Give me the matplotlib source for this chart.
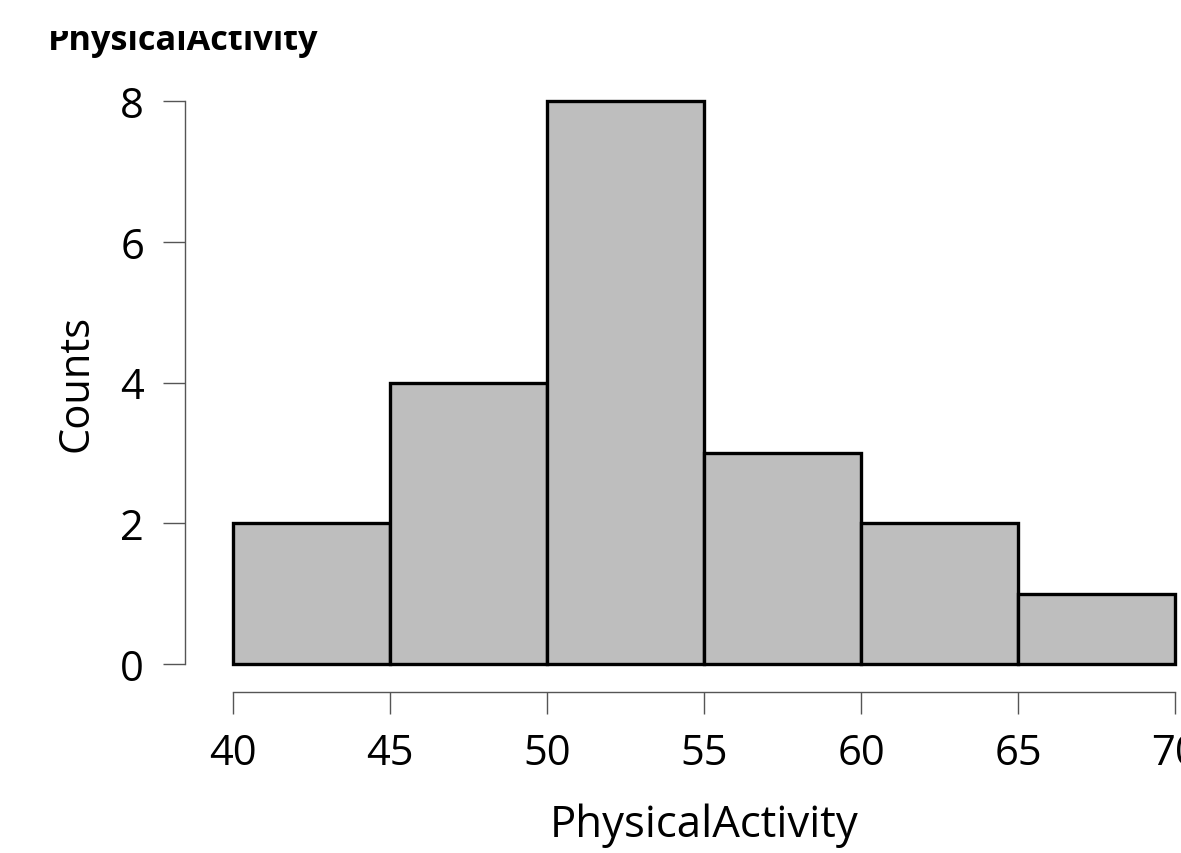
import matplotlib
matplotlib.use("Agg")
import matplotlib.pyplot as plt
from matplotlib.patches import Rectangle
import numpy as np

bin_edges = [40, 45, 50, 55, 60, 65, 70]
counts = [2, 4, 8, 3, 2, 1]
y_ticks = [0, 2, 4, 6, 8]
x_ticks = [40, 45, 50, 55, 60, 65, 70]
title = "PhysicalActivity"
xlabel = "PhysicalActivity"
ylabel = "Counts"

plt.rcParams['font.family'] = ['Open Sans', 'DejaVu Sans']

W, H = 1181, 854
fig = plt.figure(figsize=(W / 100, H / 100), dpi=100)

# axes placement in pixels
left_px, right_px = 185, 1181
bottom_px, top_px = 693, 88
ax = fig.add_axes([left_px / W, 1 - bottom_px / H, (right_px - left_px) / W, (bottom_px - top_px) / H])

# scales: 40 -> 233px, 70 -> 1175px ; 0 -> 665px, 8 -> 102px
xs = (1175 - 233) / 30.0
ys = (665 - 102) / 8.0
ax.set_xlim(40 - (233 - left_px) / xs, 70 + (right_px - 1175) / xs)
ax.set_ylim(0 - (bottom_px - 665) / ys, 8 + (102 - top_px) / ys)

widths = np.diff(bin_edges)
ax.bar(bin_edges[:-1], counts, width=widths, align='edge', color='#bebebe',
       edgecolor='black', linewidth=2.4, zorder=2)

for s in ['top', 'right']:
    ax.spines[s].set_visible(False)
for s in ['left', 'bottom']:
    ax.spines[s].set_color('#555555')
    ax.spines[s].set_linewidth(1.0)
ax.spines['left'].set_bounds(0, 8)
ax.spines['bottom'].set_bounds(40, 70)

ax.set_xticks(x_ticks)
ax.set_yticks(y_ticks)
ax.tick_params(axis='both', length=15.5, width=1.0, color='#555555', labelsize=30, pad=13)
ax.tick_params(axis='y', pad=14)

xl = ax.get_xlim()
yl = ax.get_ylim()
ax.set_xlabel(xlabel, fontsize=31.5)
ax.xaxis.set_label_coords((55 - xl[0]) / (xl[1] - xl[0]), -0.183)
ax.set_ylabel(ylabel, fontsize=30)
ax.yaxis.set_label_coords(-0.088, (4 - yl[0]) / (yl[1] - yl[0]))

t = fig.text(48 / W, 1 - 50 / H, title, fontsize=24.7, fontweight='bold',
             ha='left', va='baseline')
clip_rect = Rectangle((0, 0), 1, 1 - 32 / H, transform=fig.transFigure,
                      facecolor='none', edgecolor='none')
t.set_clip_path(clip_rect)

fig.savefig("out.png", dpi=100)
